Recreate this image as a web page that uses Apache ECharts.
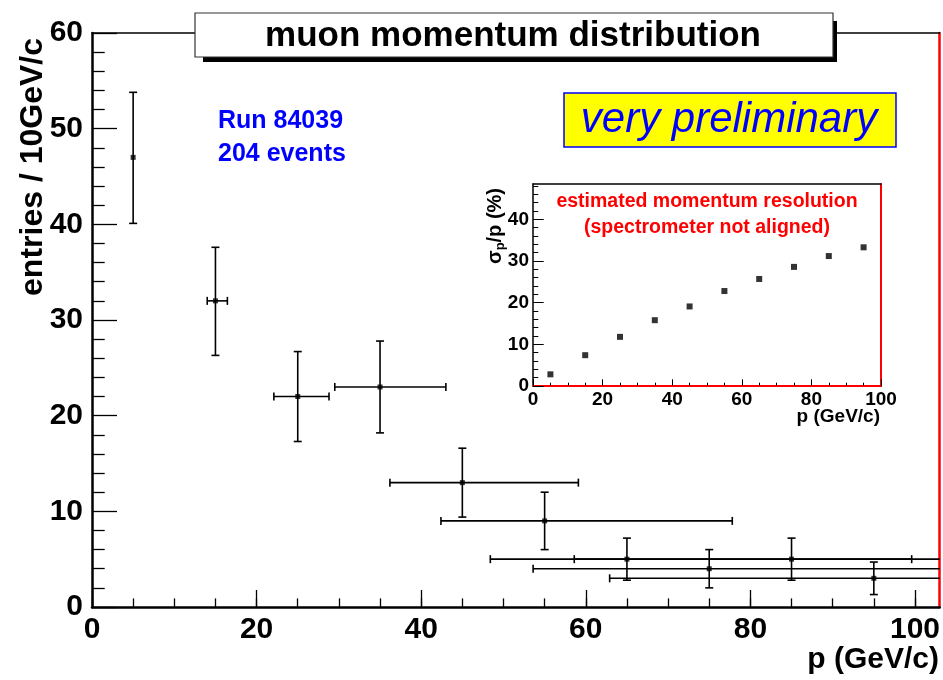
<!DOCTYPE html>
<html><head><meta charset="utf-8">
<script src="https://cdn.jsdelivr.net/npm/echarts@6/dist/echarts.min.js"></script>
<style>html,body{margin:0;padding:0;background:#fff}#c{width:943px;height:680px}</style>
</head><body><div id="c"></div>
<script>
// ---- data ----
const momentum      = [5, 15, 25, 35, 45, 55, 65, 75, 85, 95];
const entries       = [47, 32, 22, 23, 13, 9, 5, 4, 5, 3];
const entriesLow    = [40.1, 26.3, 17.3, 18.2, 9.4, 6.0, 2.8, 2.0, 2.8, 1.3];
const entriesHigh   = [53.8, 37.6, 26.7, 27.8, 16.6, 12.0, 7.2, 6.0, 7.2, 4.7];
const momentumLow   = [5, 14.0, 22.1, 29.5, 36.2, 42.4, 48.4, 53.6, 58.6, 62.9];
const momentumHigh  = [5, 16.45, 28.8, 43.0, 59.1, 77.8, 99.6, 126, 159, 200];
const resolutionP   = [5, 15, 25, 35, 45, 55, 65, 75, 85, 95];
const resolution    = [2.8, 7.4, 11.8, 15.8, 19.1, 22.8, 25.7, 28.6, 31.2, 33.3];
const mainXTicks    = [0, 20, 40, 60, 80, 100];
const mainXMinor    = [0, 5, 10, 15, 20, 25, 30, 35, 40, 45, 50, 55, 60, 65, 70, 75, 80, 85, 90, 95, 100];
const mainYTicks    = [0, 10, 20, 30, 40, 50, 60];
const insetXTicks   = [0, 20, 40, 60, 80, 100];
const insetYTicks   = [0, 10, 20, 30, 40];
const insetYMinor   = [2, 4, 6, 8, 12, 14, 16, 18, 22, 24, 26, 28, 32, 34, 36, 38, 42, 44, 46, 48];

const MAIN_X_MAX = 103, MAIN_Y_MAX = 60, INSET_X_MAX = 100, INSET_Y_MAX = 48.5;
const FONT = 'Liberation Sans, Arial, Helvetica, sans-serif';

const errData = momentum.map((p, i) => [p, entries[i], entriesLow[i], entriesHigh[i], momentumLow[i], momentumHigh[i]]);
const mainPts = momentum.map((p, i) => [p, entries[i]]);
const insetPts = resolutionP.map((p, i) => [p, resolution[i]]);

function renderErr(params, api) {
  const x = api.value(0), y = api.value(1), yl = api.value(2), yh = api.value(3), xl = api.value(4), xh = api.value(5);
  const st = { stroke: '#000', lineWidth: 1.6 };
  const cap = 4;
  const c = api.coord([x, y]);
  const lo = api.coord([x, yl]), hi = api.coord([x, yh]);
  const ch = [];
  ch.push({ type: 'line', shape: { x1: c[0], y1: lo[1], x2: c[0], y2: hi[1] }, style: st });
  ch.push({ type: 'line', shape: { x1: c[0] - cap, y1: lo[1], x2: c[0] + cap, y2: lo[1] }, style: st });
  ch.push({ type: 'line', shape: { x1: c[0] - cap, y1: hi[1], x2: c[0] + cap, y2: hi[1] }, style: st });
  if (xh > xl) {
    const xhc = Math.min(xh, MAIN_X_MAX);
    const a = api.coord([xl, y]), b = api.coord([xhc, y]);
    ch.push({ type: 'line', shape: { x1: a[0], y1: a[1], x2: b[0], y2: b[1] }, style: st });
    ch.push({ type: 'line', shape: { x1: a[0], y1: a[1] - cap, x2: a[0], y2: a[1] + cap }, style: st });
    if (xh <= MAIN_X_MAX) ch.push({ type: 'line', shape: { x1: b[0], y1: b[1] - cap, x2: b[0], y2: b[1] + cap }, style: st });
  }
  return { type: 'group', children: ch };
}

const noAxis = { axisLine: { show: false }, axisTick: { show: false }, axisLabel: { show: false }, splitLine: { show: false } };

const chart = echarts.init(document.getElementById('c'), null, { renderer: 'canvas' });
chart.setOption({
  animation: false,
  backgroundColor: '#fff',
  grid: [
    { left: 92, top: 33, width: 848, height: 574 },
    { left: 533, top: 184, width: 348, height: 202, show: true, backgroundColor: '#fff', borderWidth: 0 }
  ],
  xAxis: [
    { gridIndex: 0, type: 'value', position: 'bottom', min: 0, max: MAIN_X_MAX,
      axisLine: { show: true, onZero: false, lineStyle: { color: '#000', width: 2.5 } },
      axisTick: { show: true, inside: true, length: 8.6, customValues: mainXMinor, lineStyle: { color: '#000', width: 1.3 } },
      axisLabel: { customValues: mainXTicks, fontSize: 30, fontWeight: 'bold', color: '#000', margin: 8, fontFamily: FONT },
      splitLine: { show: false } },
    Object.assign({ gridIndex: 0, type: 'value', position: 'bottom', min: 0, max: MAIN_X_MAX }, noAxis,
      { axisTick: { show: true, inside: true, length: 17, customValues: mainXTicks, lineStyle: { color: '#000', width: 1.3 } } }),
    Object.assign({ gridIndex: 0, type: 'value', position: 'top', min: 0, max: MAIN_X_MAX }, noAxis,
      { axisLine: { show: true, onZero: false, lineStyle: { color: '#000', width: 1.5 } } }),
    { gridIndex: 1, type: 'value', position: 'bottom', min: 0, max: INSET_X_MAX, interval: 20,
      axisLine: { show: true, onZero: false, lineStyle: { color: '#ff0000', width: 2 } },
      axisTick: { show: true, inside: true, length: 6.7, lineStyle: { color: '#000', width: 1 } },
      minorTick: { show: true, splitNumber: 4, length: 3.3, lineStyle: { color: '#000', width: 1 } },
      axisLabel: { fontSize: 19, fontWeight: 'bold', color: '#000', margin: 4, fontFamily: FONT },
      splitLine: { show: false }, minorSplitLine: { show: false } },
    Object.assign({ gridIndex: 1, type: 'value', position: 'top', min: 0, max: INSET_X_MAX }, noAxis,
      { axisLine: { show: true, onZero: false, lineStyle: { color: '#000', width: 1.5 } } })
  ],
  yAxis: [
    { gridIndex: 0, type: 'value', position: 'left', min: 0, max: MAIN_Y_MAX, interval: 10,
      axisLine: { show: true, onZero: false, lineStyle: { color: '#000', width: 2.5 } },
      axisTick: { show: true, inside: true, length: 25, lineStyle: { color: '#000', width: 1.3 } },
      minorTick: { show: true, splitNumber: 5, length: 12.7, lineStyle: { color: '#000', width: 1.3 } },
      axisLabel: { fontSize: 30, fontWeight: 'bold', color: '#000', margin: 9, fontFamily: FONT },
      splitLine: { show: false }, minorSplitLine: { show: false } },
    Object.assign({ gridIndex: 0, type: 'value', position: 'right', min: 0, max: MAIN_Y_MAX }, noAxis,
      { axisLine: { show: true, onZero: false, lineStyle: { color: '#ff0000', width: 2.5 } } }),
    { gridIndex: 1, type: 'value', position: 'left', min: 0, max: INSET_Y_MAX,
      axisLine: { show: true, onZero: false, lineStyle: { color: '#000', width: 1.5 } },
      axisTick: { show: true, inside: true, length: 10.7, customValues: insetYTicks, lineStyle: { color: '#000', width: 1 } },
      axisLabel: { customValues: insetYTicks, fontSize: 19, fontWeight: 'bold', color: '#000', margin: 4, fontFamily: FONT },
      splitLine: { show: false } },
    Object.assign({ gridIndex: 1, type: 'value', position: 'left', min: 0, max: INSET_Y_MAX }, noAxis,
      { axisTick: { show: true, inside: true, length: 5.3, customValues: insetYMinor, lineStyle: { color: '#000', width: 1 } } }),
    Object.assign({ gridIndex: 1, type: 'value', position: 'right', min: 0, max: INSET_Y_MAX }, noAxis,
      { axisLine: { show: true, onZero: false, lineStyle: { color: '#ff0000', width: 2 } } })
  ],
  series: [
    { type: 'custom', xAxisIndex: 0, yAxisIndex: 0, renderItem: renderErr, data: errData, z: 3 },
    { type: 'scatter', xAxisIndex: 0, yAxisIndex: 0, symbol: 'rect', symbolSize: 5, itemStyle: { color: '#000' }, data: mainPts, z: 4 },
    { type: 'scatter', xAxisIndex: 3, yAxisIndex: 2, symbol: 'rect', symbolSize: 6, itemStyle: { color: '#000' }, data: insetPts, z: 4 }
  ],
  graphic: [
    { type: 'rect', z: 100, shape: { x: 203, y: 21, width: 634, height: 41 }, style: { fill: '#000' } },
    { type: 'rect', z: 101, shape: { x: 195, y: 13, width: 638, height: 44 }, style: { fill: '#fff', stroke: '#333', lineWidth: 1.2 } },
    { type: 'text', z: 102, x: 513, y: 36, style: { text: 'muon momentum distribution', fill: '#000', font: 'bold 35px ' + FONT, align: 'center', verticalAlign: 'middle' } },
    { type: 'rect', z: 100, shape: { x: 564, y: 93, width: 332, height: 54 }, style: { fill: '#ffff00', stroke: '#0000ff', lineWidth: 1.5 } },
    { type: 'text', z: 101, x: 729, y: 120, style: { text: 'very preliminary', fill: '#0000ff', font: 'italic 42px ' + FONT, align: 'center', verticalAlign: 'middle' } },
    { type: 'text', z: 100, x: 218, y: 121, style: { text: 'Run 84039', fill: '#0000ff', font: 'bold 25px ' + FONT, align: 'left', verticalAlign: 'middle' } },
    { type: 'text', z: 100, x: 218, y: 154, style: { text: '204 events', fill: '#0000ff', font: 'bold 25px ' + FONT, align: 'left', verticalAlign: 'middle' } },
    { type: 'text', z: 100, x: 33, y: 38, rotation: Math.PI / 2, style: { text: 'entries / 10GeV/c', fill: '#000', font: 'bold 32px ' + FONT, align: 'right', verticalAlign: 'middle' } },
    { type: 'text', z: 100, x: 939, y: 660, style: { text: 'p (GeV/c)', fill: '#000', font: 'bold 30px ' + FONT, align: 'right', verticalAlign: 'middle' } },
    { type: 'text', z: 100, x: 707, y: 202, style: { text: 'estimated momentum resolution', fill: '#ff0000', font: 'bold 19.5px ' + FONT, align: 'center', verticalAlign: 'middle' } },
    { type: 'text', z: 100, x: 707, y: 228, style: { text: '(spectrometer not aligned)', fill: '#ff0000', font: 'bold 19.5px ' + FONT, align: 'center', verticalAlign: 'middle' } },
    { type: 'text', z: 100, x: 880, y: 417, style: { text: 'p (GeV/c)', fill: '#000', font: 'bold 19px ' + FONT, align: 'right', verticalAlign: 'middle' } },
    { type: 'text', z: 100, x: 495, y: 188, rotation: Math.PI / 2, style: {
        text: '{b|σ}{s|p}{b|/p (%)}', align: 'right', verticalAlign: 'middle',
        rich: { b: { fontSize: 20, fontWeight: 'bold', fontFamily: FONT, fill: '#000', color: '#000', lineHeight: 24, verticalAlign: 'middle' },
                s: { fontSize: 13, fontWeight: 'bold', fontFamily: FONT, fill: '#000', color: '#000', lineHeight: 24, verticalAlign: 'bottom' } } } }
  ]
});
</script></body></html>
